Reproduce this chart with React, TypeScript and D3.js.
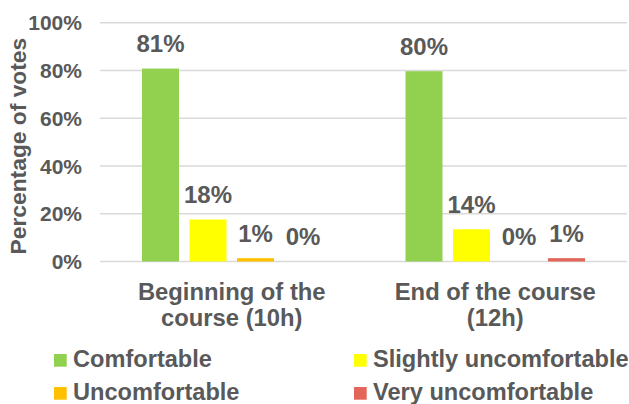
import React from "react";
import * as d3 from "d3";

const categories = ["Beginning of the course (10h)", "End of the course (12h)"];
const categoryLines = [["Beginning of the", "course (10h)"], ["End of the course", "(12h)"]];
const seriesNames = ["Comfortable", "Slightly uncomfortable", "Uncomfortable", "Very uncomfortable"];
const seriesColors = ["#92D050", "#FFFF00", "#FFC000", "#E2665A"];
const comfortable = [80.8, 79.7];
const slightlyUncomfortable = [17.6, 13.5];
const uncomfortable = [1.4, 0];
const veryUncomfortable = [0, 1.4];
const yTicks = [0, 20, 40, 60, 80, 100];

const W = 629;
const H = 404;
const FONT = "'Liberation Sans', Arial, sans-serif";
const TEXT = "#595959";

export default function App() {
  const seriesValues = [comfortable, slightlyUncomfortable, uncomfortable, veryUncomfortable];
  const y = d3.scaleLinear().domain([0, 100]).range([261.5, 22.7]);
  const x0 = d3.scaleBand<string>().domain(categories).range([100, 627]);
  const x1 = d3
    .scaleBand<string>()
    .domain(seriesNames)
    .range([0, x0.bandwidth()])
    .paddingInner(0.221)
    .paddingOuter(0.884);

  return (
    <svg
      width={W}
      height={H}
      style={{ position: "absolute", left: 0, top: 0, background: "#fff" }}
      fontFamily={FONT}
      fontWeight="bold"
    >
      {yTicks.map((t) => (
        <g key={t}>
          <line x1={100} x2={627} y1={y(t)} y2={y(t)} stroke="#D9D9D9" strokeWidth={1.5} />
          <text x={82} y={y(t)} dy="0.36em" textAnchor="end" fontSize={21} fill={TEXT}>
            {t}%
          </text>
        </g>
      ))}
      <text
        transform={`translate(26,${(y(0) + y(100)) / 2 + 4}) rotate(-90)`}
        textAnchor="middle"
        fontSize={22.8}
        fill={TEXT}
      >
        Percentage of votes
      </text>
      {categories.map((c, ci) => (
        <g key={c} transform={`translate(${x0(c)},0)`}>
          {seriesNames.map((s, si) => {
            const v = seriesValues[si][ci];
            const bx = x1(s)!;
            return (
              <g key={s}>
                <rect x={bx} y={y(v)} width={x1.bandwidth()} height={y(0) - y(v)} fill={seriesColors[si]} />
                <text
                  x={bx + x1.bandwidth() / 2}
                  y={y(v) - 16.5}
                  textAnchor="middle"
                  fontSize={24}
                  fill={TEXT}
                >
                  {Math.round(v)}%
                </text>
              </g>
            );
          })}
          {categoryLines[ci].map((line, li) => (
            <text
              key={li}
              x={x0.bandwidth() / 2}
              y={300 + li * 26}
              textAnchor="middle"
              fontSize={23.8}
              fill={TEXT}
            >
              {line}
            </text>
          ))}
        </g>
      ))}
      {seriesNames.map((s, si) => {
        const col = si % 2;
        const row = Math.floor(si / 2);
        const lx = 54 + col * 300;
        const ly = 354 + row * 33;
        return (
          <g key={s}>
            <rect x={lx} y={ly} width={12.7} height={12.7} fill={seriesColors[si]} />
            <text x={lx + 19} y={ly + 13.2} fontSize={23.6} fill={TEXT}>
              {s}
            </text>
          </g>
        );
      })}
    </svg>
  );
}
